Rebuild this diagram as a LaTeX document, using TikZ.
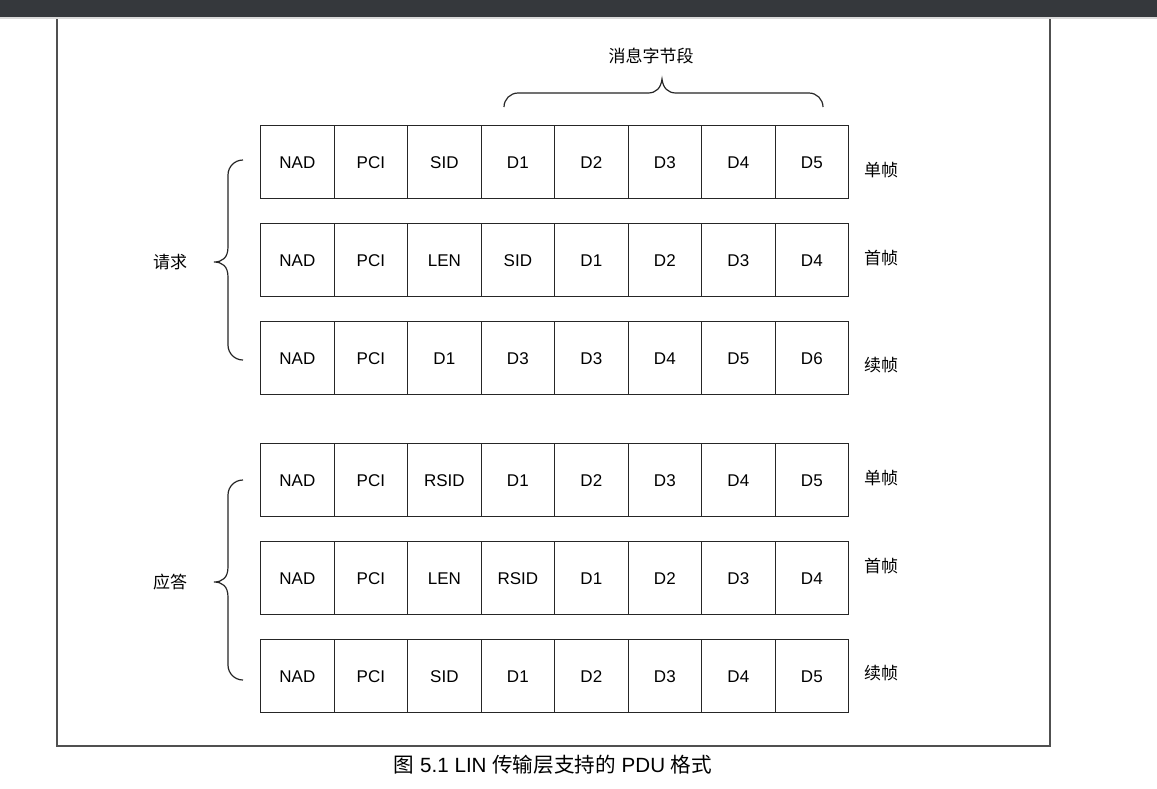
\documentclass[tikz,border=0pt]{standalone}
\usepackage{fontspec}
\setmainfont{Liberation Sans}
\newfontfamily\cjk{Noto Sans CJK SC}
\definecolor{barcol}{HTML}{35383C}
\definecolor{framecol}{HTML}{505050}
\begin{document}
\begin{tikzpicture}[x=1pt,y=-1pt,
  cellbox/.style={draw=black!85,line width=1.2pt,minimum width=73.5pt,minimum height=73pt,inner sep=0pt,anchor=north west,text height=12.3pt,text depth=0pt,font=\fontsize{17}{17}\selectfont},
  sidelbl/.style={font=\cjk\fontsize{17}{17}\selectfont,inner sep=0pt},
  bracecurve/.style={draw=black!85,line width=1.2pt}]
\useasboundingbox (0,0) rectangle (1157,788);
\fill[white] (0,0) rectangle (1157,788);
% top bar
\fill[barcol] (0,0) rectangle (1157,17);
\fill[black!15] (0,17) rectangle (1157,19);
% frame
\draw[framecol,line width=1.8pt] (57,19) -- (57,746) -- (1050,746) -- (1050,19);
% rows
\foreach \row/\top/\items in {1/125/{NAD,PCI,SID,D1,D2,D3,D4,D5},
                              2/223/{NAD,PCI,LEN,SID,D1,D2,D3,D4},
                              3/321/{NAD,PCI,D1,D3,D3,D4,D5,D6},
                              4/443/{NAD,PCI,RSID,D1,D2,D3,D4,D5},
                              5/541/{NAD,PCI,LEN,RSID,D1,D2,D3,D4},
                              6/639/{NAD,PCI,SID,D1,D2,D3,D4,D5}}{
  \foreach \t [count=\c] in \items {
    \node[cellbox] (r\row c\c) at ({260+73.5*(\c-1)},\top) {\t};
  }
}
% side labels
\node[sidelbl] (l1) at (881,170) {单帧};
\node[sidelbl] (l2) at (881,258) {首帧};
\node[sidelbl] (l3) at (881,365) {续帧};
\node[sidelbl] (l4) at (881,478) {单帧};
\node[sidelbl] (l5) at (881,566) {首帧};
\node[sidelbl] (l6) at (881,673) {续帧};
% group labels
\node[sidelbl] (req) at (170,262) {请求};
\node[sidelbl] (resp) at (170,582) {应答};
\node[sidelbl] (msg) at (651,56) {消息字节段};
% left braces
\foreach \mid in {262,582}{
  \draw[bracecurve] (243,{\mid-102}) .. controls (234.7,{\mid-102}) and (228,{\mid-95.3}) .. (228,{\mid-87})
    -- (228,{\mid-15}) .. controls (228,{\mid-4}) and (222,\mid) .. (214,\mid)
    .. controls (222,\mid) and (228,{\mid+4}) .. (228,{\mid+15})
    -- (228,{\mid+83}) .. controls (228,{\mid+91.3}) and (234.7,{\mid+98}) .. (243,{\mid+98});
}
% top brace
\draw[bracecurve] (504,107) .. controls (504,99.3) and (510.3,93) .. (518,93)
  -- (648,93) .. controls (656,93) and (661,88) .. (662,79)
  .. controls (663,88) and (668,93) .. (676,93)
  -- (809,93) .. controls (816.7,93) and (823,99.3) .. (823,107);
% caption
\node[font=\fontsize{20.6}{20.6}\selectfont,inner sep=0pt] (cap) at (553,765)
  {{\cjk 图} 5.1 LIN {\cjk 传输层支持的} PDU {\cjk 格式}};
\end{tikzpicture}
\end{document}
